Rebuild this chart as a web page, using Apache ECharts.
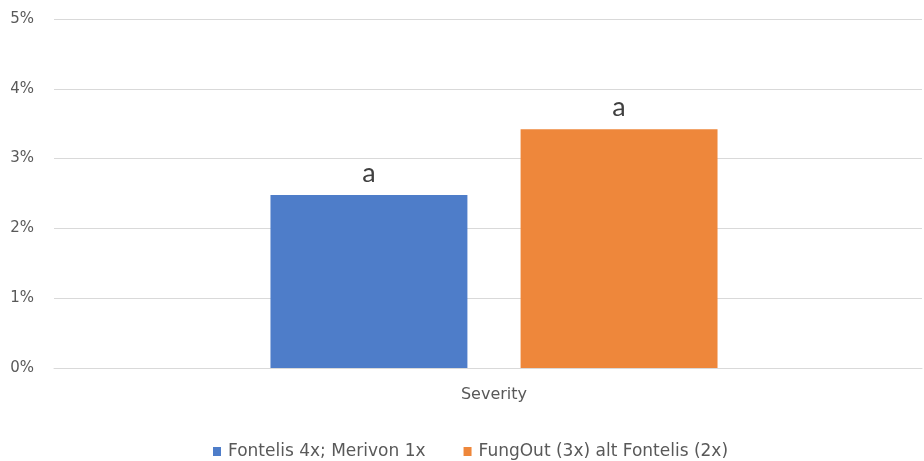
<!DOCTYPE html>
<html>
<head>
<meta charset="utf-8">
<script src="https://cdn.jsdelivr.net/npm/echarts@6/dist/echarts.min.js"></script>
<style>html,body{margin:0;padding:0;background:#fff}#c{width:924px;height:461px}</style>
</head>
<body>
<div id="c"></div>
<script>
const categories = ['Severity'];
const seriesNames = ['Fontelis 4x; Merivon 1x', 'FungOut (3x) alt Fontelis (2x)'];
const seriesValues = [[2.48], [3.42]];
const seriesLetters = ['a', 'a'];
const seriesColors = ['#4e7dc9', '#ee873b'];
const yTicks = [0, 1, 2, 3, 4, 5];

const chart = echarts.init(document.getElementById('c'));
const font = '"DejaVu Sans", sans-serif';
const yMin = yTicks[0], yMax = yTicks[yTicks.length - 1];
chart.setOption({
  animation: false,
  textStyle: { fontFamily: font },
  grid: [
    { left: 54, right: 2, top: 19, height: 349 },
    { left: 64, right: 0, top: 19, height: 349 }
  ],
  legend: {
    top: 438, left: 208, itemWidth: 8, itemHeight: 9, itemGap: 38,
    icon: 'rect',
    textStyle: { color: '#595959', fontSize: 17, fontFamily: font, padding: [0, 0, 0, 2] },
    data: seriesNames
  },
  xAxis: [
    {
      gridIndex: 0, type: 'category', data: categories,
      axisLine: { lineStyle: { color: '#d9d9d9' } },
      axisTick: { show: false }, axisLabel: { show: false }
    },
    {
      gridIndex: 1, type: 'category', data: categories,
      axisLine: { show: false }, axisTick: { show: false },
      axisLabel: { color: '#595959', fontSize: 16, margin: 19 }
    }
  ],
  yAxis: [
    {
      gridIndex: 0, type: 'value', min: yMin, max: yMax, interval: 1,
      axisLine: { show: false }, axisTick: { show: false },
      splitLine: { lineStyle: { color: '#d9d9d9' } },
      axisLabel: { color: '#595959', fontSize: 15, margin: 20, formatter: '{value}%' }
    },
    {
      gridIndex: 1, type: 'value', min: yMin, max: yMax, interval: 1,
      axisLine: { show: false }, axisTick: { show: false },
      splitLine: { show: false }, axisLabel: { show: false }
    }
  ],
  series: seriesNames.map((n, i) => ({
    name: n, type: 'bar', data: seriesValues[i],
    xAxisIndex: 1, yAxisIndex: 1,
    barWidth: '22.9%', barGap: '27%',
    itemStyle: { color: seriesColors[i] },
    label: { show: true, position: 'top', distance: 8, formatter: seriesLetters[i],
      color: '#404040', fontSize: 27, fontFamily: 'Lato, sans-serif' }
  }))
});
</script>
</body>
</html>
